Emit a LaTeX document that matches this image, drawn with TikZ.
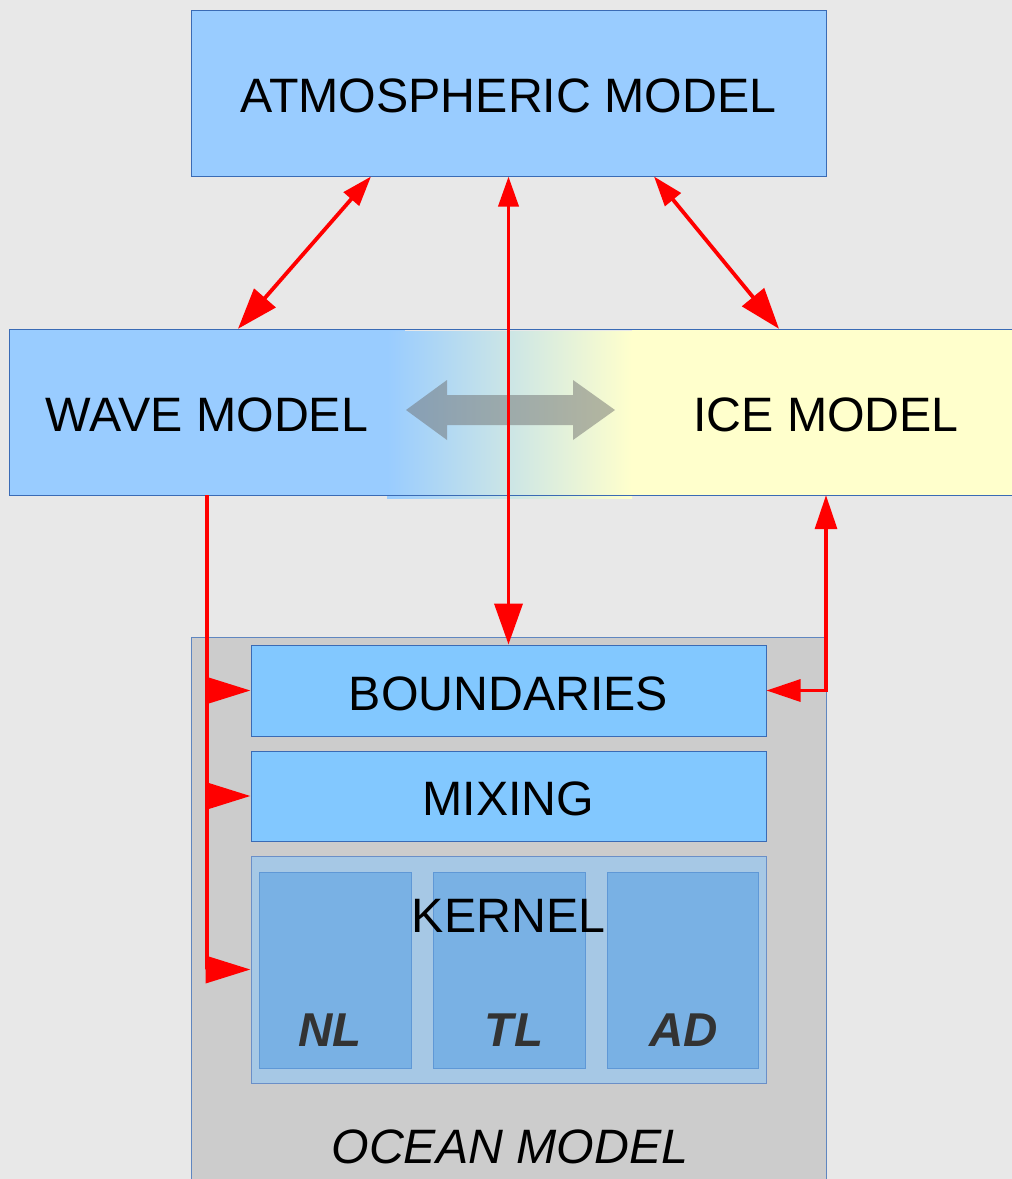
\documentclass[tikz,border=0pt]{standalone}
\usepackage{fontspec}
\setmainfont{Liberation Sans}
\usetikzlibrary{arrows.meta,calc}

\definecolor{bg}{HTML}{E8E8E8}
\definecolor{skyfill}{HTML}{99CCFF}
\definecolor{boxline}{HTML}{3A6BB5}
\definecolor{oceanline}{HTML}{5F86C0}
\definecolor{icefill}{HTML}{FFFFCC}
\definecolor{oceanfill}{HTML}{CCCCCC}
\definecolor{layerfill}{HTML}{82C8FF}
\definecolor{kernelfill}{HTML}{A6C8E5}
\definecolor{kernelline}{HTML}{6A8FC8}
\definecolor{subfill}{HTML}{79B1E4}
\definecolor{subline}{HTML}{5F98D6}
\definecolor{labelgray}{HTML}{333333}
\definecolor{linkred}{HTML}{FF0000}
\definecolor{swapgray}{HTML}{6B6B6B}

\tikzset{
  smalltip/.tip={Triangle[length=30pt,width=20pt]},
  bigtip/.tip={Triangle[length=41pt,width=28pt]},
  feedtip/.tip={Triangle[length=45pt,width=27pt]},
  icetip/.tip={Triangle[length=34pt,width=22pt]}
}

\begin{document}
\begin{tikzpicture}[x=1pt,y=-1pt,
  bigtext/.style={font=\fontsize{48.3}{58}\selectfont, text height=39.6pt, text depth=0pt},
  box/.style={draw=boxline, line width=1pt, inner sep=0pt, bigtext},
  flat/.style={inner sep=0pt, bigtext},
  subbox/.style={draw=subline, line width=1pt, fill=subfill, inner sep=0pt,
                 minimum height=196pt},
  sublabel/.style={font=\bfseries\itshape\fontsize{47.5}{56}\selectfont, text=labelgray},
  link/.style={draw=linkred, line width=3.8pt}]

\clip (0,0) rectangle (1012,1179);
\fill[bg] (0,0) rectangle (1012,1179);

% atmosphere
\node[box, fill=skyfill, minimum width=635pt, minimum height=166pt] (atm)
  at (508.5,93) {ATMOSPHERIC MODEL};

% wave and ice band with blended joint
\node[flat, fill=skyfill, minimum width=396pt, minimum height=166pt] (wave)
  at (207,412) {WAVE MODEL};
\node[flat, fill=icefill, minimum width=388pt, minimum height=166pt] (ice)
  at (826,412) {ICE MODEL};
\shade[left color=skyfill, right color=icefill] (387,331) rectangle (632,498);
\draw[boxline, line width=1pt] (1030,329) -- (9,329) -- (9,495) -- (1030,495);

% exchange between wave and ice
\fill[swapgray, opacity=0.48]
  (406,410) -- (447,380) -- (447,395) -- (573,395) -- (573,380) -- (615,410)
  -- (573,440) -- (573,425) -- (447,425) -- (447,440) -- cycle;

% ocean model and its layers
\node[draw=oceanline, line width=1pt, fill=oceanfill, inner sep=0pt,
      minimum width=635pt, minimum height=600pt, anchor=north] (ocean)
  at (508.5,637) {};
\node[box, fill=layerfill, minimum width=515pt, minimum height=91pt] (bound)
  at (508.5,690.5) {BOUNDARIES};
\node[box, fill=layerfill, minimum width=515pt, minimum height=90pt] (mix)
  at (508.5,796) {MIXING};
\node[draw=kernelline, line width=1pt, fill=kernelfill, inner sep=0pt,
      minimum width=515pt, minimum height=227pt] (kern) at (508.5,969.5) {};
\node[subbox, minimum width=152pt] (nl) at (335,970) {};
\node[subbox, minimum width=152pt] (tl) at (509,970) {};
\node[subbox, minimum width=151pt] (ad) at (682.5,970) {};
\node[flat] (kernlabel) at (508.5,912.5) {KERNEL};
\node[sublabel] (nllabel) at (330,1030) {NL};
\node[sublabel] (tllabel) at (514,1030) {TL};
\node[sublabel] (adlabel) at (684,1030) {AD};
\node[flat, font=\itshape\fontsize{48.3}{58}\selectfont] (oceanlabel)
  at (510,1144) {OCEAN MODEL};

% couplings
\draw[link, smalltip-bigtip] ([xshift=-137.5pt]atm.south) -- ([xshift=31pt]wave.north);
\draw[link, smalltip-bigtip] ([xshift=145.5pt]atm.south) -- ([xshift=-47pt]ice.north);
\draw[link, smalltip-bigtip] (atm.south) -- (bound.north);

\draw[link, -feedtip] (wave.south) |- (kern.west);
\draw[link, -feedtip] (wave.south |- bound.west) -- (bound.west);
\draw[link, -feedtip] (wave.south |- mix.west) -- (mix.west);

\draw[link, line width=3.2pt, icetip-icetip] (ice.south) |- (bound.east);
\end{tikzpicture}
\end{document}
